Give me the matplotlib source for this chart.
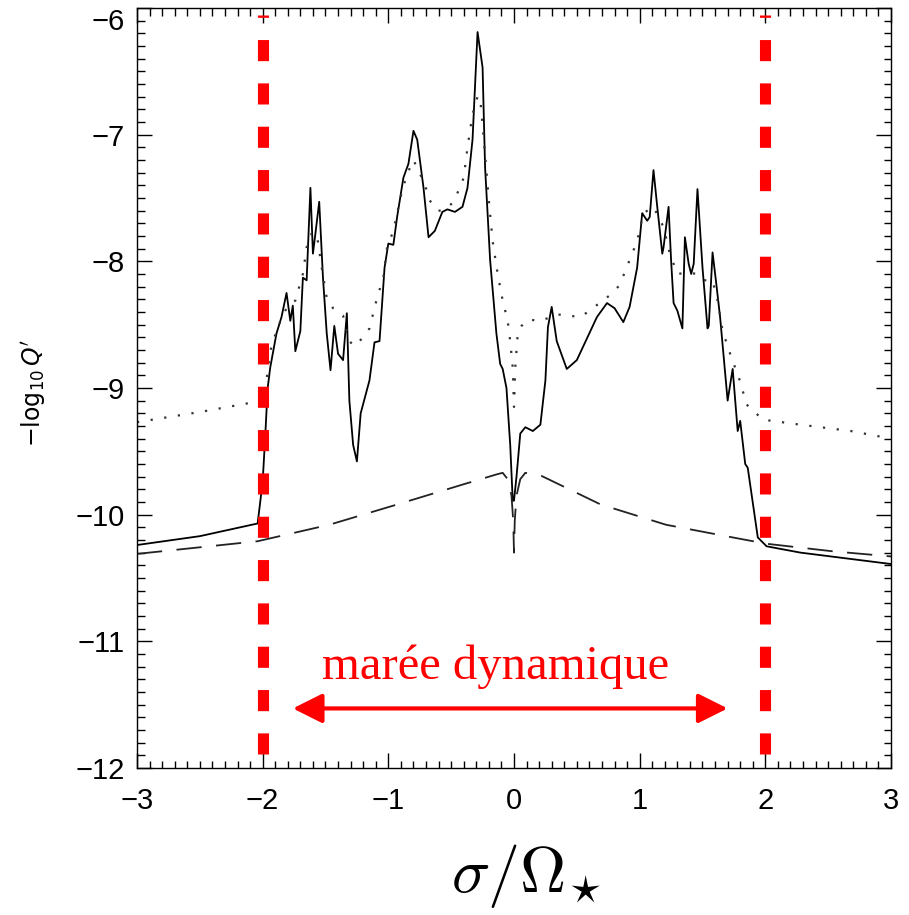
import matplotlib
matplotlib.use("Agg")
import matplotlib.pyplot as plt
from matplotlib.ticker import MultipleLocator

# solid curve (full dissipation)
solid_x = [-3.0, -2.5, -2.04, -2.00, -1.98, -1.96, -1.94, -1.89, -1.85, -1.81,
           -1.78, -1.76, -1.74, -1.70, -1.68, -1.65, -1.62, -1.60, -1.58, -1.55,
           -1.52, -1.49, -1.46, -1.43, -1.40, -1.36, -1.33, -1.31, -1.28, -1.25,
           -1.22, -1.15, -1.11, -1.07, -1.03, -1.00, -0.96, -0.93, -0.88, -0.84,
           -0.80, -0.77, -0.72, -0.68, -0.63, -0.57, -0.53, -0.47, -0.41, -0.37,
           -0.33, -0.29, -0.25, -0.23, -0.19, -0.14, -0.11, -0.09, -0.06, -0.03,
           -0.01, 0.0, 0.02, 0.05, 0.09, 0.15, 0.21, 0.25, 0.27, 0.30,
           0.34, 0.42, 0.50, 0.66, 0.74, 0.80, 0.87, 0.92, 0.98, 1.02,
           1.06, 1.08, 1.11, 1.14, 1.18, 1.19, 1.23, 1.25, 1.27, 1.30,
           1.34, 1.36, 1.39, 1.41, 1.43, 1.46, 1.50, 1.54, 1.55, 1.58,
           1.61, 1.64, 1.70, 1.74, 1.78, 1.80, 1.84, 1.86, 1.94, 2.01,
           2.28, 2.68, 3.0]
solid_y = [-10.24, -10.17, -10.07, -9.74, -9.39, -9.00, -8.84, -8.57, -8.44, -8.25,
           -8.47, -8.35, -8.71, -8.55, -8.13, -8.15, -7.42, -7.94, -7.78, -7.53,
           -8.13, -8.57, -8.86, -8.51, -8.73, -8.78, -8.41, -9.10, -9.45, -9.58,
           -9.20, -8.94, -8.64, -8.63, -8.05, -7.86, -7.87, -7.65, -7.34, -7.23,
           -6.97, -7.04, -7.42, -7.81, -7.76, -7.61, -7.59, -7.61, -7.57, -7.42,
           -7.04, -6.19, -6.47, -7.26, -7.99, -8.57, -8.81, -8.85, -9.00, -9.45,
           -9.89, -9.89, -9.70, -9.36, -9.31, -9.34, -9.29, -8.94, -8.52, -8.36,
           -8.63, -8.85, -8.78, -8.44, -8.33, -8.37, -8.48, -8.36, -8.05, -7.62,
           -7.68, -7.65, -7.28, -7.57, -7.94, -7.89, -7.57, -7.99, -8.33, -8.39,
           -8.53, -7.81, -8.02, -8.10, -8.02, -7.43, -8.05, -8.53, -8.51, -7.93,
           -8.18, -8.44, -9.10, -8.85, -9.34, -9.26, -9.60, -9.63, -10.18, -10.25,
           -10.30, -10.35, -10.39]

# dotted curve
dot_x = [-3.0, -2.5, -2.0, -1.98, -1.94, -1.89, -1.85, -1.80, -1.74, -1.68,
         -1.65, -1.61, -1.57, -1.53, -1.49, -1.44, -1.36, -1.31, -1.27, -1.20,
         -1.15, -1.09, -1.04, -1.01, -0.96, -0.93, -0.89, -0.85, -0.80, -0.75,
         -0.72, -0.67, -0.61, -0.56, -0.49, -0.44, -0.40, -0.37, -0.33, -0.29,
         -0.27, -0.24, -0.20, -0.17, -0.13, -0.09, -0.05, -0.03, -0.01, 0.0,
         0.01, 0.03, 0.06, 0.11, 0.21, 0.35, 0.53, 0.60, 0.68, 0.76,
         0.84, 0.92, 0.98, 1.03, 1.11, 1.19, 1.24, 1.30, 1.38, 1.46,
         1.51, 1.58, 1.62, 1.66, 1.72, 1.80, 1.85, 1.98, 2.28, 2.68, 3.0]
dot_y = [-9.27, -9.19, -9.10, -9.02, -8.71, -8.55, -8.45, -8.35, -8.31, -8.10,
         -7.89, -7.78, -7.78, -8.05, -8.29, -8.37, -8.43, -8.63, -8.67, -8.60,
         -8.53, -8.29, -8.13, -7.89, -7.76, -7.62, -7.44, -7.31, -7.20, -7.31,
         -7.36, -7.52, -7.60, -7.60, -7.54, -7.44, -7.34, -7.10, -6.84, -6.70,
         -6.70, -7.04, -7.52, -7.84, -8.10, -8.31, -8.47, -8.63, -8.84, -9.15,
         -8.84, -8.57, -8.51, -8.46, -8.47, -8.42, -8.44, -8.39, -8.33, -8.27,
         -8.19, -7.99, -7.84, -7.62, -7.57, -7.73, -7.94, -8.10, -8.09, -8.10,
         -8.15, -8.15, -8.31, -8.55, -8.73, -8.95, -9.13, -9.25, -9.29, -9.34, -9.40]

# dashed curve
dash_x = [-3.0, -2.04, -1.47, -0.93, -0.40, -0.13, -0.09, -0.05, -0.02, -0.006,
          0.0, 0.006, 0.02, 0.05, 0.09, 0.21, 0.69, 1.21, 1.74, 2.01, 2.54, 3.0]
dash_y = [-10.31, -10.21, -10.08, -9.92, -9.76, -9.68, -9.67, -9.72, -9.85, -10.05,
          -10.30, -10.05, -9.85, -9.72, -9.67, -9.69, -9.92, -10.08, -10.18, -10.23,
          -10.29, -10.33]

limit_x = [-2.0, 2.0]
arrow_x = [-1.76, 1.70]
arrow_y = -11.53
annot = "marée dynamique"

fig = plt.figure(figsize=(9.09, 9.15), dpi=100)
ax = fig.add_axes([0.1507, 0.1607, 0.8295, 0.8306])

ax.plot(solid_x, solid_y, color="black", lw=1.3)
ax.plot(dot_x, dot_y, color="#333333", lw=1.6, linestyle=(0, (1, 5.2)))
ax.plot(dash_x, dash_y, color="#222222", lw=1.3, linestyle=(0, (14, 8)))

# red dashed limits of the dynamical tide domain
for xv in limit_x:
    ax.plot([xv, xv], [-11.89, -6.055], color="red", lw=8,
            linestyle=(0, (1.9, 2.0)), solid_capstyle="butt", dash_capstyle="butt")

ax.annotate("", xy=(arrow_x[1], arrow_y), xytext=(arrow_x[0], arrow_y),
            arrowprops=dict(arrowstyle="<|-|>,head_length=0.9,head_width=0.45",
                            color="red", lw=3, mutation_scale=20,
                            shrinkA=0, shrinkB=0))
ax.text(-0.147, -11.30, annot, color="red", fontsize=35,
        family="Liberation Serif", ha="center", va="baseline")

ax.set_xlim(-3, 3)
ax.set_ylim(-12, -6)
ax.xaxis.set_major_locator(MultipleLocator(1))
ax.xaxis.set_minor_locator(MultipleLocator(0.1))
ax.yaxis.set_major_locator(MultipleLocator(1))
ax.yaxis.set_minor_locator(MultipleLocator(0.1))
ax.tick_params(which="both", direction="in", top=True, right=True, width=1)
ax.tick_params(which="major", length=10.8)
ax.tick_params(which="minor", length=5.4)
ax.tick_params(axis="x", pad=14)
ax.tick_params(axis="y", pad=9)
for sp in ax.spines.values():
    sp.set_linewidth(1.0)

fig.canvas.draw()
for lab in ax.get_xticklabels() + ax.get_yticklabels():
    lab.set_family("Liberation Sans")
    lab.set_fontsize(21)
# top label sits just below the top of the frame, as in the original
for lab in ax.get_yticklabels():
    if lab.get_position()[1] == -6:
        lab.set_va("top")

ax.set_xlabel(r"$\sigma/\Omega_{\!\star}$", fontsize=46, math_fontfamily="cm")
ax.xaxis.set_label_coords(0.516, -0.097)
ax.text(-0.137, 0.493, r"$-\log_{10}Q^{\prime}$", transform=ax.transAxes,
        rotation=90, ha="center", va="center", fontsize=17,
        math_fontfamily="dejavusans")

fig.savefig("out.png", dpi=100)
